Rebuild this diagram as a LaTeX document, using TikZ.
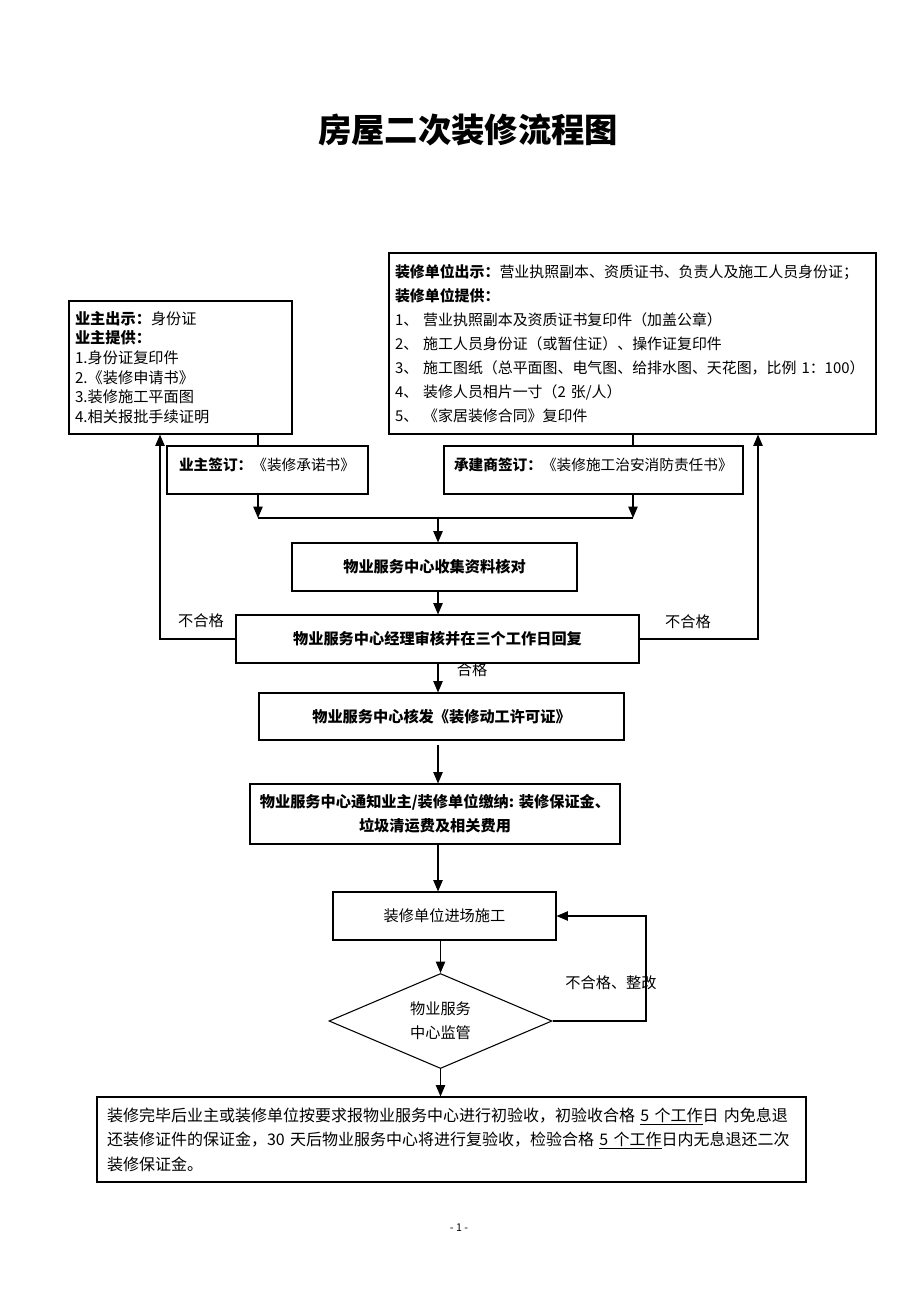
\documentclass[tikz,border=0pt]{standalone}
\usepackage{fontspec}
\setmainfont{Noto Sans CJK SC}
\usetikzlibrary{shapes.geometric, arrows.meta, positioning}

\begin{document}
\begin{tikzpicture}[
        x=0.75pt, y=-0.75pt,
        font=\fontsize{11.4}{18}\selectfont,
        listbox/.style={rectangle, draw=black, line width=0.8pt, align=left, inner xsep=4.5pt},
        signbox/.style={rectangle, draw=black, line width=0.8pt, align=left, inner xsep=9pt, inner ysep=0pt, text height=18pt, text depth=18pt, font=\fontsize{11}{18}\selectfont},
        procbox/.style={rectangle, draw=black, line width=0.8pt, align=center, inner sep=0pt, minimum height=36pt, font=\fontsize{11.4}{18}\selectfont\bfseries},
        plainbox/.style={rectangle, draw=black, line width=0.8pt, align=center, inner sep=0pt, minimum height=36pt},
        checkbox/.style={diamond, draw=black, line width=0.8pt, aspect=2.35, inner sep=0pt, align=center},
        lbl/.style={font=\fontsize{11.4}{14}\selectfont},
        conn/.style={line width=0.9pt},
        arrow/.style={line width=0.9pt, -{Triangle[length=8.5pt,width=7pt]}}
    ]
        \useasboundingbox (0,0) rectangle (920,1302);

        % Title
        \node (title) at (468,130) [font=\fontsize{25}{30}\selectfont\bfseries] {房屋二次装修流程图};

        % Top: documents from owner and decoration unit
        \node (owner) at (180.5,367.5) [listbox, text width=158.25pt, minimum height=99.75pt, font=\fontsize{11.4}{14.7}\selectfont] {\textbf{业主出示：}身份证\\ \textbf{业主提供：}\\ 1.身份证复印件\\ 2.《装修申请书》\\ 3.装修施工平面图\\ 4.相关报批手续证明};
        \node (unit) at (632.5,343.5) [listbox, text width=356.25pt, minimum height=135.75pt, font=\fontsize{11.2}{18}\selectfont] {\textbf{装修单位出示：}营业执照副本、资质证书、负责人及施工人员身份证；\\ \textbf{装修单位提供：}\\ 1、~营业执照副本及资质证书复印件（加盖公章）\\ 2、~施工人员身份证（或暂住证）、操作证复印件\\ 3、~施工图纸（总平面图、电气图、给排水图、天花图，比例~1：100）\\ 4、~装修人员相片一寸（2~张/人）\\ 5、~《家居装修合同》复印件};

        % Signing
        \node (ownersign) at (267.5,470) [signbox, text width=132.75pt] {\textbf{业主签订：}《装修承诺书》};
        \node (consign) at (593.5,470) [signbox, inner xsep=7.5pt, text width=209.25pt] {\textbf{承建商签订：}《装修施工治安消防责任书》};

        % Main flow
        \node (collect) at (434.5,567) [procbox, minimum width=213.75pt] {物业服务中心收集资料核对};
        \node (review) at (437.5,639) [procbox, minimum width=302.25pt] {物业服务中心经理审核并在三个工作日回复};
        \node (permit) at (441.5,716.5) [procbox, minimum width=273.75pt, minimum height=35.25pt] {物业服务中心核发《装修动工许可证》};
        \node (notify) at (435,814) [procbox, minimum width=277.5pt, minimum height=45pt] {物业服务中心通知业主/装修单位缴纳: 装修保证金、\\垃圾清运费及相关费用};
        \node (enter) at (444.5,916) [plainbox, minimum width=167.25pt] {装修单位进场施工};
        \node (check) at (440.5,1021) [checkbox, minimum width=167.25pt, minimum height=71.25pt] {物业服务\\中心监管};
        \node (final) at (451.5,1139.5) [listbox, inner xsep=7.5pt, text width=516.75pt, minimum height=63.75pt, font=\fontsize{12}{18.4}\selectfont] {装修完毕后业主或装修单位按要求报物业服务中心进行初验收，初验收合格 \underline{5 个工作}日 内免息退\\ 还装修证件的保证金，30 天后物业服务中心将进行复验收，检验合格 \underline{5 个工作}日内无息退还二次\\ 装修保证金。};

        % Labels
        \node (failL) at (201,621) [lbl] {不合格};
        \node (failR) at (688,622) [lbl] {不合格};
        \node (pass) at (472,670) [lbl] {合格};
        \node (redo) at (611,983) [lbl] {不合格、整改};
        \node (page) at (459,1228) [font=\fontsize{8}{10}\selectfont] {- 1 -};

        % Turning points
        \coordinate (joinL) at (258,518);
        \coordinate (joinR) at (633,518);
        \coordinate (spine) at (438,518);
        \coordinate (backL) at (160,639);
        \coordinate (backR) at (758,639);
        \coordinate (loop) at (646,916);

        % Documents to signing, then merge
        \draw [conn] (joinL |- owner.south) -- (joinL |- ownersign.north);
        \draw [arrow] (joinL |- ownersign.south) -- (joinL);
        \draw [conn] (joinR |- unit.south) -- (joinR |- consign.north);
        \draw [arrow] (joinR |- consign.south) -- (joinR);
        \draw [conn] (joinL) -- (joinR);
        \draw [arrow] (spine) -- (spine |- collect.north);
        \draw [arrow] (spine |- collect.south) -- (spine |- review.north);

        % Rejected: back to the documents
        \draw [arrow] (review.west) -- (backL) -- (backL |- owner.south);
        \draw [arrow] (review.east) -- (backR) -- (backR |- unit.south);

        % Approved
        \draw [arrow] (spine |- review.south) -- (spine |- permit.north);
        \draw [arrow, shorten <=3.5pt] (spine |- permit.south) -- (spine |- notify.north);
        \draw [arrow] (spine |- notify.south) -- (spine |- enter.north);
        \draw [arrow] (enter.south -| check.north) -- (check.north);
        \draw [arrow] (check.east) -| (loop) -- (enter.east);
        \draw [arrow] (check.south) -- (check.south |- final.north);

    \end{tikzpicture}
\end{document}
